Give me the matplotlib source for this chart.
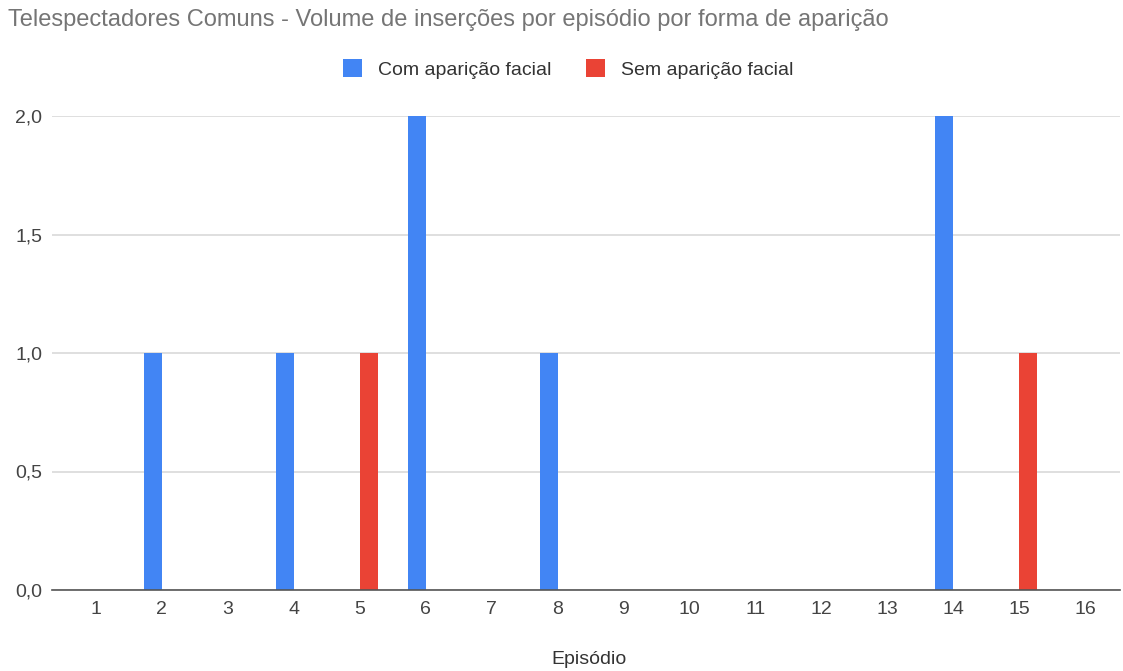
import matplotlib.pyplot as plt
from matplotlib.patches import Patch
import numpy as np

episodios = list(range(1, 17))
com_aparicao = [0, 1, 0, 1, 0, 2, 0, 1, 0, 0, 0, 0, 0, 2, 0, 0]
sem_aparicao = [0, 0, 0, 0, 1, 0, 0, 0, 0, 0, 0, 0, 0, 0, 1, 0]
y_ticks = [0.0, 0.5, 1.0, 1.5, 2.0]

azul = "#4285F4"
vermelho = "#EA4335"

plt.rcParams['font.family'] = ['Liberation Sans', 'DejaVu Sans']

fig = plt.figure(figsize=(11.23, 6.71), dpi=100)
ax = fig.add_axes([52 / 1123, 1 - 590 / 671, (1120 - 52) / 1123, (590 - 116) / 671])

x = np.array(episodios)
w = 0.27
ax.bar(x - w / 2, com_aparicao, width=w, color=azul, zorder=3)
ax.bar(x + w / 2, sem_aparicao, width=w, color=vermelho, zorder=3)

ax.set_xlim(0.333, 16.53)
ax.set_ylim(0, 2.0)
ax.set_xticks(episodios)
ax.set_xticklabels([str(e) for e in episodios])
ax.set_yticks(y_ticks)
ax.set_yticklabels([f"{v:.1f}".replace(".", ",") for v in y_ticks])
ax.tick_params(axis='both', length=0, labelsize=14, colors="#444444")
ax.tick_params(axis='x', pad=8)
ax.tick_params(axis='y', pad=7)

ax.grid(axis='y', color="#d9d9d9", linewidth=1.2, zorder=0)
for s in ['top', 'right', 'left']:
    ax.spines[s].set_visible(False)
ax.spines['bottom'].set_color("#555555")
ax.spines['bottom'].set_linewidth(1.2)
ax.spines['bottom'].set_zorder(4)

fig.text(589 / 1123, 1 - 660 / 671, "Episódio", ha='center', va='center',
         fontsize=14, color="#333333")

fig.text(8 / 1123, 1 - 20 / 671, "Telespectadores Comuns - Volume de inserções por episódio por forma de aparição",
         ha='left', va='center', fontsize=17, color="#757575")

handles = [Patch(facecolor=azul, label="Com aparição facial"),
           Patch(facecolor=vermelho, label="Sem aparição facial")]
fig.legend(handles=handles, loc='center', bbox_to_anchor=(568 / 1123, 1 - 69 / 671),
           ncol=2, frameon=False, fontsize=14, handlelength=1.0, handleheight=1.0,
           handletextpad=0.8, columnspacing=1.8, labelcolor="#333333")

fig.savefig("out.png", dpi=100)
